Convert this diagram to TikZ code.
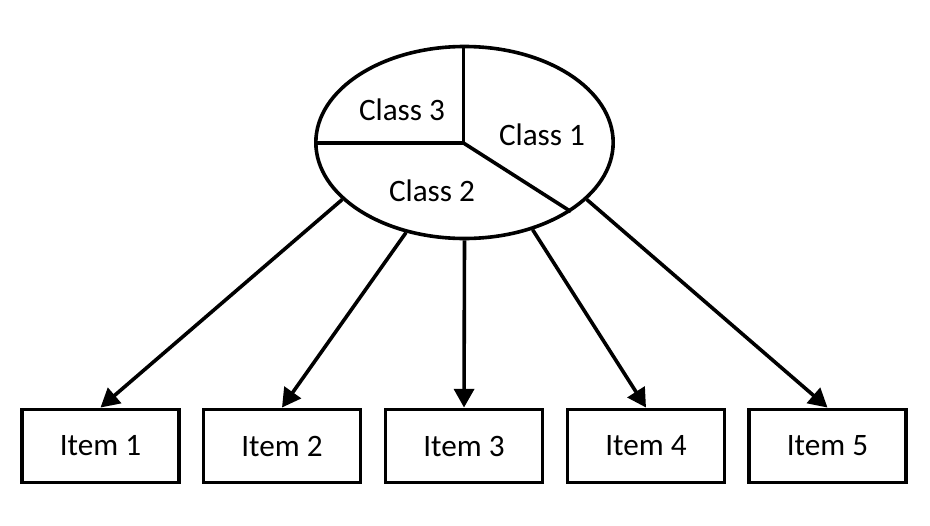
\documentclass[tikz,border=0pt]{standalone}
\usepackage{fontspec}
\setmainfont{Carlito}
\usetikzlibrary{shapes.geometric,arrows.meta}
\begin{document}
\begin{tikzpicture}[x=0.75pt,y=-0.75pt,
  thick line/.style={line width=2.7pt},
  itembox/.style={draw,line width=2.7pt,minimum width=157\pgflinewidth,
    minimum width=118pt,minimum height=55pt,inner sep=0pt,font=\fontsize{23.4pt}{28pt}\selectfont},
  classlabel/.style={font=\fontsize{23.4pt}{28pt}\selectfont,inner sep=0pt},
  link/.style={line width=2.7pt,-{Triangle[length=14pt,width=15pt]}}]
\useasboundingbox (0,0) rectangle (930,525);
\node (ell) [draw,line width=2.7pt,ellipse,minimum width=223pt,minimum height=144pt,inner sep=0pt] at (464.5,142.5) {};
\coordinate (c) at (463.5,143);
\draw[thick line] (c) -- (ell.north -| c);
\draw[thick line] (c) -- (ell.west |- c);
\draw[thick line] (c) -- (ell.-33.3);
\node[classlabel] (c3) at (402,110) {Class 3};
\node[classlabel] (c1) at (542,135) {Class 1};
\node[classlabel] (c2) at (432,191) {Class 2};
\node[itembox] (i1) at (100.5,446) {Item 1};
\node[itembox] (i2) at (282,446) {Item 2};
\node[itembox] (i3) at (464,446) {Item 3};
\node[itembox] (i4) at (646,446) {Item 4};
\node[itembox] (i5) at (827.5,446) {Item 5};
\draw[link] (ell.205.1) -- (i1.north);
\draw[link] (ell.237.4) -- (i2.north);
\draw[link] (ell.270) -- (i3.north);
\draw[link] (ell.308.1) -- (i4.north);
\draw[link] (ell.335.2) -- (i5.north);
\end{tikzpicture}
\end{document}
